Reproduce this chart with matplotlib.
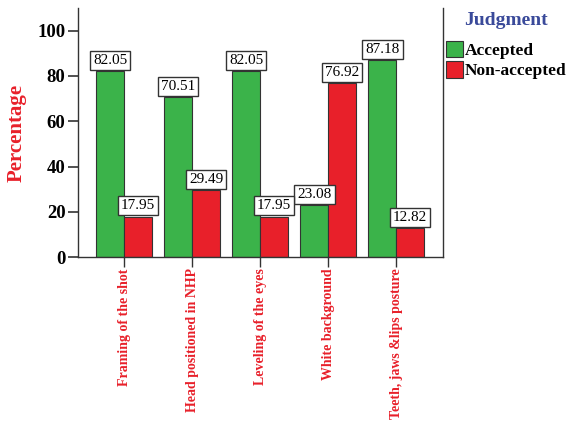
import matplotlib
matplotlib.use("Agg")
import matplotlib.pyplot as plt
import numpy as np

categories = ["Framing of the shot", "Head positioned in NHP", "Leveling of the eyes",
              "White background", "Teeth, jaws &lips posture"]
accepted = [82.05, 70.51, 82.05, 23.08, 87.18]
non_accepted = [17.95, 29.49, 17.95, 76.92, 12.82]

plt.rcParams['font.family'] = ['Liberation Serif', 'DejaVu Serif']
plt.rcParams['font.weight'] = 'bold'

fig = plt.figure(figsize=(5.69, 4.23), dpi=100)
ax = fig.add_axes([0.137, 0.392, 0.642, 0.589])

x = np.arange(len(categories))
w = 0.41
green = "#3bb34a"
red = "#e8202a"
b1 = ax.bar(x - w / 2, accepted, w, color=green, edgecolor="#333333", linewidth=0.8, label="Accepted")
b2 = ax.bar(x + w / 2, non_accepted, w, color=red, edgecolor="#333333", linewidth=0.8, label="Non-accepted")

box = dict(boxstyle="square,pad=0.2", facecolor="white", edgecolor="#333333", linewidth=1.0)
for bars in (b1, b2):
    for r in bars:
        h = r.get_height()
        ax.annotate("{:.2f}".format(h), (r.get_x() + r.get_width() / 2, h),
                    xytext=(0, 3), textcoords="offset points", ha="center", va="bottom",
                    fontsize=11, fontweight="normal", bbox=box)

ax.set_xlim(-0.68, 4.69)
ax.set_ylim(0, 110)
ax.set_yticks([0, 20, 40, 60, 80, 100])
ax.tick_params(axis="y", labelsize=13.5, length=7, width=1.2, color="#333333", pad=2)
ax.set_xticks(x)
ax.set_xticklabels(categories, rotation=90, color="#e8202a", fontsize=10, fontweight="bold")
ax.tick_params(axis="x", length=7, width=1.0, color="#333333", pad=1)
ax.set_ylabel("Percentage", color="#e8202a", fontsize=15, fontweight="bold", labelpad=8)

ax.spines["top"].set_visible(False)
for s in ("left", "bottom", "right"):
    ax.spines[s].set_color("#333333")
    ax.spines[s].set_linewidth(1.0)

leg = ax.legend(loc="upper left", bbox_to_anchor=(1.0, 0.995), frameon=False,
                title="Judgment", fontsize=12.5, handlelength=1.0, handleheight=1.05,
                handletextpad=0.1, borderaxespad=0.0, borderpad=0.15, labelspacing=0.12)
leg.get_title().set_color("#3a4a9a")
leg.get_title().set_fontsize(14)
leg.get_title().set_fontweight("bold")
leg._legend_box.sep = 9

fig.savefig("out.png", dpi=100)
